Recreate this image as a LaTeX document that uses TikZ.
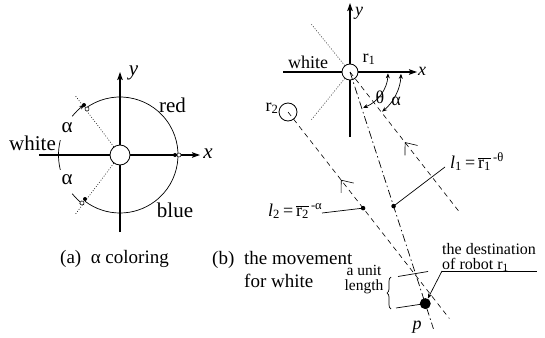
\documentclass[tikz,border=0pt]{standalone}
\usepackage{fontspec}
\setmainfont{Liberation Serif}
\usetikzlibrary{arrows.meta,decorations.pathreplacing,calc}
\begin{document}
\begin{tikzpicture}[x=1pt,y=-1pt,
  axis/.style={line width=1.2pt,-{Stealth[length=8pt,width=5.5pt,inset=1.5pt]}},
  thinl/.style={line width=0.7pt},
  lab/.style={font=\fontsize{21}{23}\selectfont,inner sep=0pt},
  labb/.style={font=\fontsize{18}{20}\selectfont,inner sep=0pt},
  captxt/.style={font=\fontsize{19}{23}\selectfont,inner sep=0pt},
  smalltxt/.style={font=\fontsize{15.5}{15}\selectfont,inner sep=0pt,align=center},
  desttxt/.style={font=\fontsize{16}{15}\selectfont,inner sep=0pt,align=left},
  robot/.style={circle,draw,line width=0.8pt,fill=white,inner sep=0pt},
  fdot/.style={circle,fill,inner sep=0pt,minimum size=4.5pt},
  odot/.style={circle,draw,fill=white,inner sep=0pt,minimum size=4pt,line width=0.5pt},
  dotl/.style={dash pattern=on 0.8pt off 1.8pt,line width=0.6pt},
  dashl/.style={dash pattern=on 5pt off 4pt,line width=0.6pt},
  dashdot/.style={dash pattern=on 8pt off 3pt on 1.5pt off 3pt,line width=0.7pt},
  smallarr/.style={-{Stealth[length=5pt,width=4pt]}},
  barb/.style={-{Straight Barb[length=10pt,width=16pt]},line width=0.6pt}
]
\useasboundingbox (0,0) rectangle (545,337);
% ================= (a) =================
\coordinate (A) at (120,155);
\coordinate (axL) at (39,155); \coordinate (axR) at (200,155);
\coordinate (ayB) at (120,232); \coordinate (ayT) at (120,72);
\draw[axis] (axL) -- (axR);
\draw[axis] (ayB) -- (ayT);
\node[robot,minimum size=20pt] (ra) at (A) {};
\draw[thinl] ($(A)+(-127:58)$) arc[start angle=-127,end angle=127,radius=58];
\coordinate (dA1) at ($(A)+(-127:75)$);
\coordinate (dA2) at ($(A)+(127:75)$);
\draw[dotl] (ra) -- (dA1);
\draw[dotl] (ra) -- (dA2);
% white arc
\draw[thinl] ($(A)+(-166:61.5)$) arc[start angle=-166,end angle=-194,radius=61.5];
\draw[thinl,smallarr] ($(A)+(-141:61.5)$) arc[start angle=-141,end angle=-125.5,radius=61.5];
\draw[thinl,smallarr] ($(A)+(-219:61.5)$) arc[start angle=-219,end angle=-234.5,radius=61.5];
% dots
\node[odot] (ou) at (87,109) {};
\node[fdot,minimum size=4pt] (fu) at (84,105) {};
\node[fdot,minimum size=4pt] (fr) at (175,155) {};
\node[odot] (or) at (179,155) {};
\node[odot] (ol) at (82,203) {};
\node[fdot,minimum size=4pt] (fl) at (85,199) {};
% labels
\node[lab,anchor=base] (tw) at (32.5,150) {white};
\node[lab,anchor=base] (tr) at (172.5,112) {red};
\node[lab,anchor=base] (tb) at (175,217) {blue};
\node[lab,anchor=base] (al1) at (67,132) {α};
\node[lab,anchor=base] (al2) at (67,184) {α};
\node[lab,anchor=base] (tx) at (208,158) {\textit{x}};
\node[lab,anchor=base] (ty) at (133.5,75) {\textit{y}};
\node[captxt,anchor=base west] (capa) at (60,263) {(a)\ \ α coloring};
% ================= (b) =================
\coordinate (R1) at (350,72);
\coordinate (bxL) at (283,72); \coordinate (bxR) at (417,72);
\coordinate (byB) at (350,137); \coordinate (byT) at (350,3);
\draw[axis] (bxL) -- (bxR);
\draw[axis] (byB) -- (byT);
\node[robot,minimum size=16pt] (r1) at (R1) {};
\node[robot,minimum size=18pt] (r2) at (288,112) {};
\coordinate (dB1) at ($(R1)+(-129:62)$);
\coordinate (dB2) at ($(R1)+(129:62)$);
\draw[dotl] (r1) -- (dB1);
\draw[dotl] (r1) -- (dB2);
% lines
\coordinate (aEnd) at ($(R1)+(52:178)$);
\coordinate (l1End) at ($(R1)+(72:270)$);
\coordinate (l2End) at ($(r2.center)+(52:262)$);
\draw[dashl] (r1.center) -- (aEnd);
\draw[dashdot] (r1.center) -- (l1End);
\draw[dashl] (r2.center) -- (l2End);
\draw[barb] ($(R1)+(52:91)$) -- ($(R1)+(52:89)$);
\draw[barb] ($(r2.center)+(52:88)$) -- ($(r2.center)+(52:86)$);
% angle arcs
\draw[thinl,{Stealth[length=5pt,width=4pt]}-{Stealth[length=5pt,width=4pt]}] ($(R1)+(2:38)$) arc[start angle=2,end angle=70,radius=38];
\draw[thinl,{Stealth[length=5pt,width=4pt]}-{Stealth[length=5pt,width=4pt]}] ($(R1)+(2:51)$) arc[start angle=2,end angle=51,radius=51];
\node[labb,anchor=base] (tth) at (380,103) {θ};
\node[labb,anchor=base] (tal) at (396,105) {α};
% labels
\node[labb,anchor=base] (tw2) at (308,68) {white};
\node[labb,anchor=base] (tr1) at (369,62) {r\textsubscript{1}};
\node[labb,anchor=base] (tr2) at (272,111) {r\textsubscript{2}};
\node[labb,anchor=base] (tx2) at (422,75) {\textit{x}};
\node[labb,anchor=base] (ty2) at (359,16) {\textit{y}};
% points on lines
\node[fdot] (d1) at ($(R1)+(72:141)$) {};
\node[fdot] (d2) at ($(r2.center)+(52:122)$) {};
\node[labb,anchor=base west] (L1) at (450,168) {\textit{l}\textsubscript{1}\,=\,$\overline{\hbox{r\textsubscript{1}}}$\textsuperscript{\,-θ}};
\node[labb,anchor=base west] (L2) at (268,216) {\textit{l}\textsubscript{2}\,=\,$\overline{\hbox{r\textsubscript{2}}}$\textsuperscript{\,-α}};
\coordinate (L1p) at (445,167);
\coordinate (L2p) at (322,213);
\draw[thinl] (d1.center) -- (L1p);
\draw[thinl] (L2p) -- (d2.center);
% p and unit length
\node[circle,fill,inner sep=0pt,minimum size=11pt] (p) at ($(R1)+(72:243.5)$) {};
\node[labb,anchor=base] (tp) at (417,329) {\textit{p}};
\coordinate (t1a) at (398,276.5);
\coordinate (t1b) at (428,271.5);
\coordinate (t2a) at (396,308);
\draw[thinl] (t1a) -- (t1b);
\draw[thinl] (t2a) -- (p.center);
\coordinate (brB) at (391,309);
\coordinate (brT) at (391,277);
\draw[thinl,decorate,decoration={brace,amplitude=4pt}] (brB) -- (brT);
\node[smalltxt,anchor=base] (tunit) at (364,290) {a unit\\[0pt]length};
% destination
\node[desttxt,anchor=base west] (td1) at (442,254) {the destination};
\node[desttxt,anchor=base west] (td2) at (442,269) {of robot r\textsubscript{1}};
\coordinate (dl) at (442,271);
\coordinate (dr) at (537,271);
\draw[thinl] (dl) -- (dr);
\draw[thinl,smallarr] (dl) -- (p);
% caption (b)
\node[captxt,anchor=base west] (capb) at (212,264) {(b)};
\node[captxt,anchor=base west] (capb1) at (244,264) {the movement};
\node[captxt,anchor=base west] (capb2) at (244,287) {for white};
\end{tikzpicture}
\end{document}
